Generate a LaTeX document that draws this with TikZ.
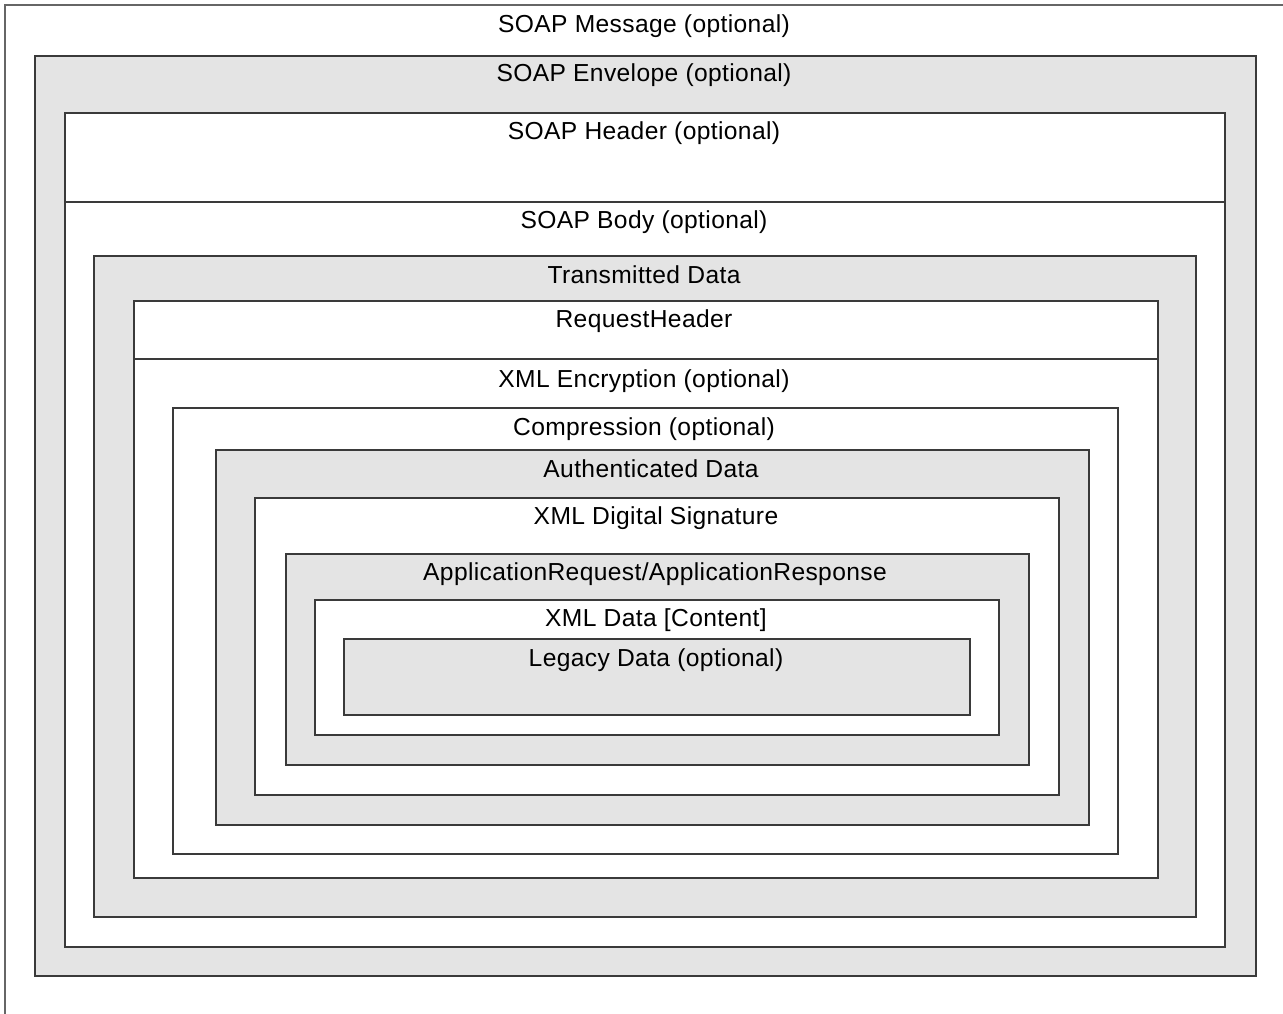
\documentclass[tikz,border=0pt]{standalone}
\usepackage{fontspec}
\setmainfont{Liberation Sans}
\definecolor{boxgray}{HTML}{E4E4E4}
\definecolor{edge}{HTML}{3A3A3A}
\begin{document}
\begin{tikzpicture}[x=1pt,y=-1pt,
  boxw/.style={draw=edge,line width=1.6pt,fill=white,inner sep=0pt,anchor=north west},
  boxg/.style={draw=edge,line width=1.6pt,fill=boxgray,inner sep=0pt,anchor=north west},
  lbl/.style={anchor=base,inner sep=0pt,font=\fontsize{24.6}{29}\selectfont\addfontfeature{LetterSpace=1.5}},
  divider/.style={draw=edge,line width=1.6pt}]
\useasboundingbox (0,0) rectangle (1283,1014);
% outer message frame (top and left edges only)
\coordinate (mtr) at (1283,5);
\coordinate (mtl) at (5,5);
\coordinate (mbl) at (5,1014);
\draw[draw=black!60,line width=1.6pt] (mtr) -- (mtl) -- (mbl);
\node[lbl] (lmsg) at (644,33) {SOAP Message (optional)};
% envelope
\node[boxg,minimum width=1221pt,minimum height=920pt] (env) at (34,55) {};
\node[lbl] (lenv) at (644,82) {SOAP Envelope (optional)};
% header + body
\node[boxw,minimum width=1160pt,minimum height=834pt] (body) at (64,112) {};
\coordinate (hdiv) at (0,202);
\draw[divider] (body.west |- hdiv) -- (body.east |- hdiv);
\node[lbl] (lhdr) at (644,140) {SOAP Header (optional)};
\node[lbl] (lbody) at (644,229) {SOAP Body (optional)};
% transmitted data
\node[boxg,minimum width=1102pt,minimum height=661pt] (td) at (93,255) {};
\node[lbl] (ltd) at (644,283) {Transmitted Data};
% request header + encryption
\node[boxw,minimum width=1024pt,minimum height=577pt] (rh) at (133,300) {};
\coordinate (rdiv) at (0,359);
\draw[divider] (rh.west |- rdiv) -- (rh.east |- rdiv);
\node[lbl] (lrh) at (644,327) {RequestHeader};
\node[lbl] (lenc) at (644,387) {XML Encryption (optional)};
% compression
\node[boxw,minimum width=945pt,minimum height=446pt] (comp) at (172,407) {};
\node[lbl] (lcomp) at (644,435) {Compression (optional)};
% authenticated data
\node[boxg,minimum width=873pt,minimum height=375pt] (auth) at (215,449) {};
\node[lbl] (lauth) at (651,477) {Authenticated Data};
% signature
\node[boxw,minimum width=804pt,minimum height=297pt] (sig) at (254,497) {};
\node[lbl] (lsig) at (656,524) {XML Digital Signature};
% application request
\node[boxg,minimum width=743pt,minimum height=211pt] (app) at (285,553) {};
\node[lbl] (lapp) at (655,580) {ApplicationRequest/ApplicationResponse};
% xml data
\node[boxw,minimum width=684pt,minimum height=135pt] (xml) at (314,599) {};
\node[lbl] (lxml) at (656,626) {XML Data [Content]};
% legacy
\node[boxg,minimum width=626pt,minimum height=76pt] (leg) at (343,638) {};
\node[lbl] (lleg) at (656,666) {Legacy Data (optional)};
\end{tikzpicture}
\end{document}
